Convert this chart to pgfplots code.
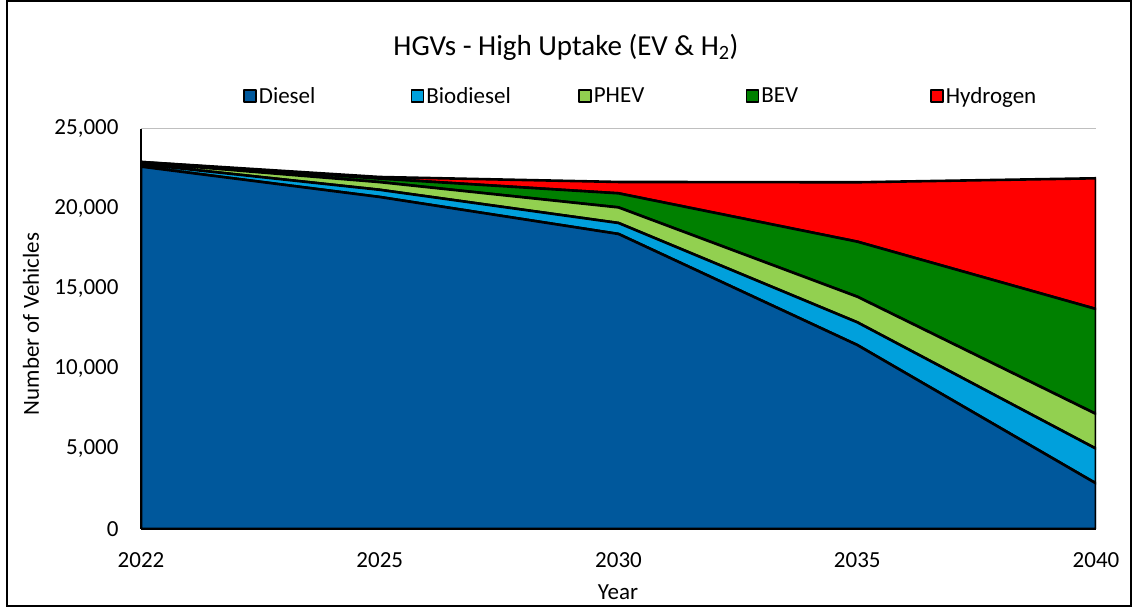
\documentclass[border=0pt]{standalone}
\usepackage{pgfplots}
\pgfplotsset{compat=1.18}
\usepackage{fontspec}
\setmainfont{Carlito}

% Excel-like colours
\definecolor{diesel}{RGB}{0,88,156}
\definecolor{biodiesel}{RGB}{0,160,220}
\definecolor{phev}{RGB}{146,208,80}
\definecolor{bev}{RGB}{0,128,0}
\definecolor{hydrogen}{RGB}{255,0,0}
\definecolor{gridgray}{RGB}{191,191,191}

\begin{document}
\begin{tikzpicture}
\begin{axis}[
    at={(141bp,78bp)}, anchor=south west,
    scale only axis,
    width=955bp, height=400bp,
    xmin=0, xmax=4,
    ymin=0, ymax=25000,
    xtick={0,1,2,3,4},
    xticklabels={2022,2025,2030,2035,2040},
    ytick={0,5000,10000,15000,20000,25000},
    scaled y ticks=false,
    /pgf/number format/.cd, 1000 sep={,}, assume math mode=true,
    /pgfplots/.cd,
    major tick length=0pt,
    axis x line*=bottom, axis y line*=left,
    axis line style={black, line width=1.8bp, -},
    ymajorgrids=true,
    grid style={gridgray, line width=1bp},
    tick label style={font=\fontsize{23bp}{27bp}\selectfont, black},
    yticklabel style={xshift=-19bp},
    xticklabel style={yshift=-20bp},
    stack plots=y,
    every axis plot/.append style={draw=black, line width=2.6bp, line join=round},
    legend columns=5,
    legend cell align=left,
    legend style={
        at={(0.107,1.0825)}, anchor=west, draw=none, fill=none,
        font=\fontsize{23bp}{27bp}\selectfont,
        inner sep=0pt,
        /tikz/every even column/.append style={column sep=0bp},
    },
    legend image code/.code={
        \draw[#1, line width=1.5bp] (0bp,-6bp) rectangle (12bp,6bp);
    },
]
\addplot[fill=diesel] coordinates {(0,22650) (1,20750) (2,18440) (3,11500) (4,2850)} \closedcycle;
\addlegendentry{\makebox[150bp][l]{Diesel}}
\addplot[fill=biodiesel] coordinates {(0,150) (1,450) (2,685) (3,1420) (4,2170)} \closedcycle;
\addlegendentry{\makebox[150bp][l]{Biodiesel}}
\addplot[fill=phev] coordinates {(0,100) (1,480) (2,975) (3,1600) (4,2170)} \closedcycle;
\addlegendentry{\makebox[150bp][l]{PHEV}}
\addplot[fill=bev] coordinates {(0,40) (1,220) (2,880) (3,3440) (4,6560)} \closedcycle;
\addlegendentry{\makebox[167bp][l]{BEV}}
\addplot[fill=hydrogen] coordinates {(0,0) (1,100) (2,710) (3,3710) (4,8170)} \closedcycle;
\addlegendentry{Hydrogen}
\end{axis}
\node[font=\fontsize{29bp}{34bp}\selectfont] at (566bp,560bp) {HGVs - High Uptake (EV \& H\textsubscript{2})};
\node[font=\fontsize{23bp}{27bp}\selectfont, rotate=90] at (31bp,283bp) {Number of Vehicles};
\node[font=\fontsize{23bp}{27bp}\selectfont] at (618bp,15bp) {Year};
\draw[black, line width=1.5bp] (7bp,1bp) rectangle (1131bp,606bp);
\pgfresetboundingbox
\useasboundingbox (0,0) rectangle (1132bp,607bp);
\end{tikzpicture}
\end{document}
